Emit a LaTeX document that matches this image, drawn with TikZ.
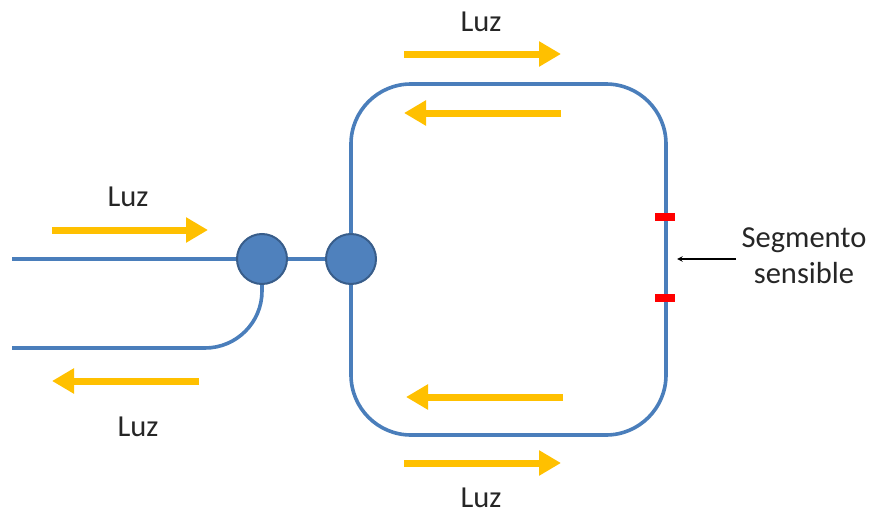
\documentclass[tikz,border=0pt]{standalone}
\usepackage{fontspec}
\setmainfont{Carlito}
\usepackage{tkz-euclide}
\usetikzlibrary{arrows,arrows.meta}
\usetikzlibrary{shapes,positioning}
\tikzset{>=stealth}
\colorlet{background}{white}
\definecolor{penColor}{RGB}{74,126,187}
\definecolor{penColor2}{RGB}{56,93,138}
\definecolor{fill2}{RGB}{79,129,189}
\definecolor{lightColor}{RGB}{255,192,0}
\tikzset{
  fiber/.style={penColor,line width=3.6pt},
  junction/.style={circle,draw=penColor2,fill=fill2,line width=2pt,minimum size=50pt,inner sep=0pt},
  beam/.style={lightColor,line width=7pt,-{Triangle[length=22pt,width=24pt]}},
  sensor/.style={fill=red,inner sep=0pt,minimum width=20pt,minimum height=8pt},
  lbl/.style={text=black!85,font=\fontsize{30.5}{36}\selectfont,inner sep=0pt}
}
\begin{document}
\begin{tikzpicture}[x=1pt,y=-1pt]
    \useasboundingbox (0,0) rectangle (871,514);
    \tkzDefPoint(12,259){In1}
    \tkzDefPoint(12,348){In2}
    \tkzDefPoint(666,84){A1}
    \tkzDefPoint(666,435){A2}

    \node[junction] (J1) at (262,259) {};
    \node[junction] (J2) at (351,259) {};

    \draw[fiber] (In1)--(J1);
    \draw[fiber] (J1)--(J2);
    \draw[fiber,rounded corners=57pt] (J1.south) |- (In2);
    \draw[fiber,rounded corners=60pt] (J2.north) |- (A1)--(A2) -| (J2.south);

    \node[sensor] (S1) at (665,217) {};
    \node[sensor] (S2) at (665,298) {};

    \tkzDefPoint(52,230){B1}
    \tkzDefPoint(208,230){B2}
    \draw[beam] (B1)--(B2);
    \tkzDefPoint(199,381){C1}
    \tkzDefPoint(52,381){C2}
    \draw[beam] (C1)--(C2);
    \tkzDefPoint(404,54){D1}
    \tkzDefPoint(561,54){D2}
    \draw[beam] (D1)--(D2);
    \tkzDefPoint(561,113){E1}
    \tkzDefPoint(404,113){E2}
    \draw[beam] (E1)--(E2);
    \tkzDefPoint(563,397){F1}
    \tkzDefPoint(406,397){F2}
    \draw[beam] (F1)--(F2);
    \tkzDefPoint(404,463){G1}
    \tkzDefPoint(561,463){G2}
    \draw[beam] (G1)--(G2);

    \node[lbl] (L1) at (128,197) {Luz};
    \node[lbl] (L2) at (138,427) {Luz};
    \node[lbl] (L3) at (481,22) {Luz};
    \node[lbl] (L4) at (481,498) {Luz};
    \node[lbl,align=center] (Seg) at (804,256) {Segmento\\sensible};

    \tkzDefPoint(736,259){H1}
    \tkzDefPoint(677,259){H2}
    \draw[->,line width=1.5pt] (H1)--(H2);
\end{tikzpicture}
\end{document}
